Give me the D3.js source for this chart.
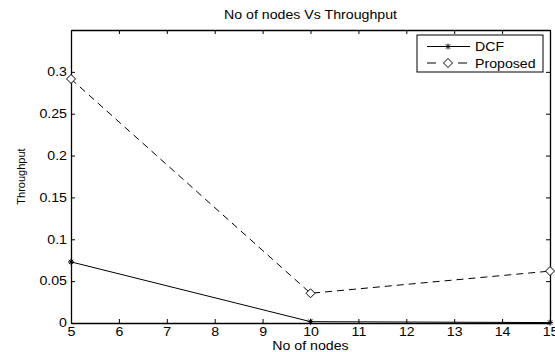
<!DOCTYPE html>
<html>
<head>
  <meta charset="utf-8">
  <title>No of nodes Vs Throughput</title>
  <script src="https://d3js.org/d3.v7.min.js"></script>
<style type="text/css">
body { margin: 0; background: #fff; }
svg text { font-family: "Liberation Sans", Arial, sans-serif; font-size: 12px; fill: #000; }
.axis path, .axis line { stroke: #000; }
</style>
</head>
<body>
<svg id="chart" width="555" height="352"></svg>
<script type="text/javascript">

// data
let nodes = [5, 10, 15];
let dcf = [0.073, 0.0016, 0.0005];
let proposed = [0.2915, 0.0355, 0.062];
let xTicks = [5, 6, 7, 8, 9, 10, 11, 12, 13, 14, 15];
let yTicks = [0, 0.05, 0.1, 0.15, 0.2, 0.25, 0.3];
let seriesNames = ['DCF', 'Proposed'];

let margin = {left: 71, top: 30, right: 5, bottom: 29};
let width = 555 - margin.left - margin.right;
let height = 352 - margin.top - margin.bottom;

let svg = d3.select('#chart');
let g = svg.append('g').attr('transform', 'translate(' + margin.left + ',' + margin.top + ')');

let x = d3.scaleLinear().domain([5, 15]).range([0, width]);
let y = d3.scaleLinear().domain([0, 0.35]).range([height, 0]);

// axes with inward ticks, MATLAB style box
g.append('g').attr('class', 'axis')
  .attr('transform', 'translate(0,' + height + ')')
  .call(d3.axisBottom(x).tickValues(xTicks).tickSizeInner(-4).tickSizeOuter(0).tickPadding(4).tickFormat(d3.format('d')));
g.append('g').attr('class', 'axis')
  .call(d3.axisTop(x).tickValues(xTicks).tickSizeInner(-4).tickSizeOuter(0).tickFormat(''));
g.append('g').attr('class', 'axis')
  .call(d3.axisLeft(y).tickValues(yTicks).tickSizeInner(-4).tickSizeOuter(0).tickPadding(4).tickFormat(d => d === 0 ? '0' : d3.format('~g')(d)));
g.append('g').attr('class', 'axis')
  .attr('transform', 'translate(' + width + ',0)')
  .call(d3.axisRight(y).tickValues(yTicks).tickSizeInner(-4).tickSizeOuter(0).tickFormat(''));

g.selectAll('.axis .domain').attr('stroke-width', 1.3);
g.selectAll('.axis text').style('font-size', '12px').attr('fill', '#000');

let line = d3.line().x((d, i) => x(nodes[i])).y(d => y(d));

g.append('path').datum(dcf)
  .attr('d', line).attr('fill', 'none').attr('stroke', '#000').attr('stroke-width', 1);
g.append('path').datum(proposed)
  .attr('d', line).attr('fill', 'none').attr('stroke', '#000').attr('stroke-width', 1)
  .attr('stroke-dasharray', '7,5');

function star(sel, cx, cy) {
  let r = 3;
  let s = sel.append('g').attr('transform', 'translate(' + cx + ',' + cy + ')')
    .attr('stroke', '#000').attr('stroke-width', 1);
  [0, 45, 90, 135].forEach(a => {
    let rad = a * Math.PI / 180;
    s.append('line')
      .attr('x1', -r * Math.cos(rad)).attr('y1', -r * Math.sin(rad))
      .attr('x2', r * Math.cos(rad)).attr('y2', r * Math.sin(rad));
  });
}
function diamond(sel, cx, cy) {
  let r = 4.5;
  sel.append('path')
    .attr('d', 'M' + cx + ',' + (cy - r) + 'L' + (cx + r) + ',' + cy + 'L' + cx + ',' + (cy + r) + 'L' + (cx - r) + ',' + cy + 'Z')
    .attr('fill', '#fff').attr('stroke', '#000').attr('stroke-width', 1);
}

dcf.forEach((d, i) => star(g, x(nodes[i]), y(d)));
proposed.forEach((d, i) => diamond(g, x(nodes[i]), y(d)));

// title and labels
svg.append('text').attr('x', margin.left + width / 2).attr('y', 19)
  .attr('text-anchor', 'middle').text('No of nodes Vs Throughput');
svg.append('text').attr('x', margin.left + width / 2).attr('y', 350)
  .attr('text-anchor', 'middle').text('No of nodes');

// legend
let lg = svg.append('g').attr('transform', 'translate(417,35)');
lg.append('rect').attr('width', 126).attr('height', 37)
  .attr('fill', '#fff').attr('stroke', '#000').attr('stroke-width', 1);
seriesNames.forEach((name, i) => {
  let ly = 11.5 + i * 16.5;
  if (i === 0) {
    lg.append('line').attr('x1', 10).attr('x2', 53).attr('y1', ly).attr('y2', ly).attr('stroke', '#000');
    star(lg, 31, ly);
  } else {
    [[10, 19], [41, 50]].forEach(s => {
      lg.append('line').attr('x1', s[0]).attr('x2', s[1]).attr('y1', ly).attr('y2', ly).attr('stroke', '#000');
    });
    diamond(lg, 31, ly);
  }
  lg.append('text').attr('x', 58).attr('y', ly + 4.5).text(name);
});

// the reference text is drawn wider than Arial: stretch it horizontally
svg.selectAll('text').each(function() {
  let len = this.getComputedTextLength();
  if (len > 0) d3.select(this).attr('textLength', len * 1.18).attr('lengthAdjust', 'spacingAndGlyphs');
});

// y label added after the stretch, it is not stretched in the reference
svg.append('text')
  .attr('transform', 'translate(25,' + (margin.top + height / 2) + ') rotate(-90)')
  .attr('text-anchor', 'middle').style('font-size', '11px').text('Throughput');

</script>
</body>
</html>
